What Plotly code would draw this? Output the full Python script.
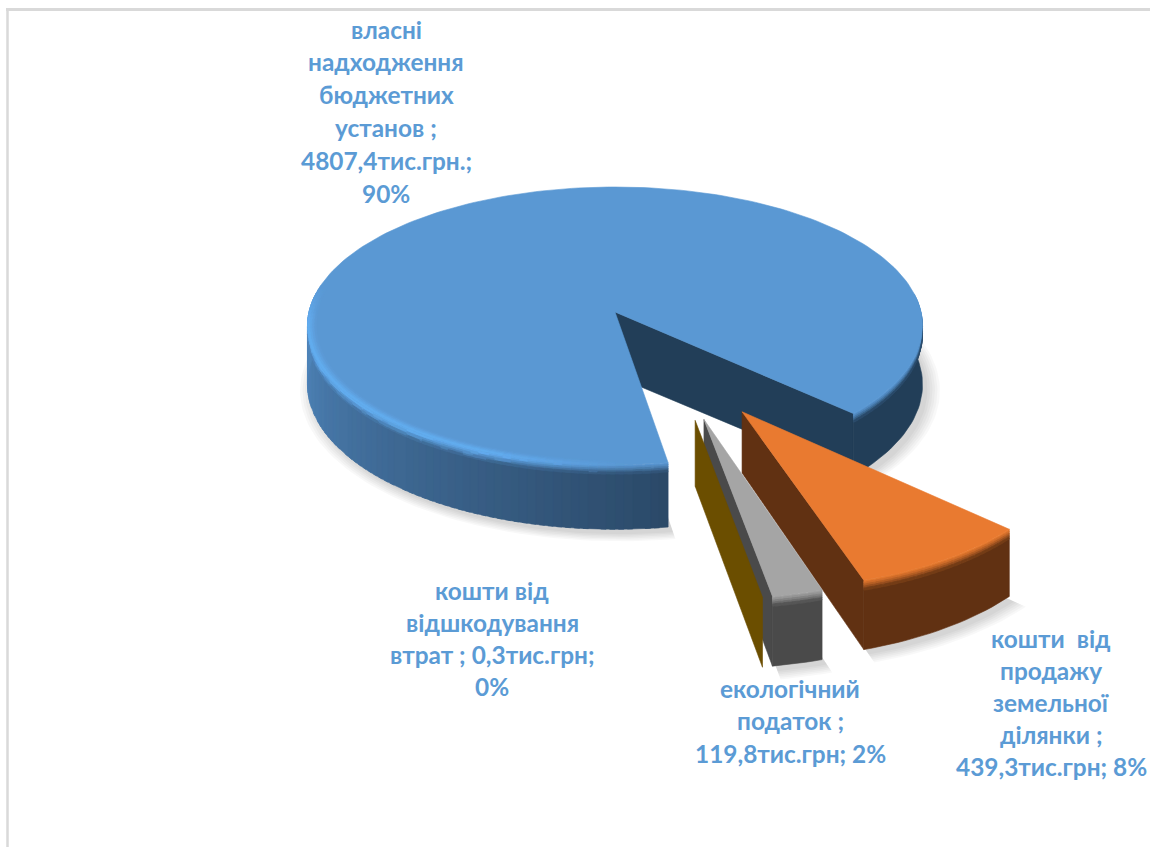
import math
import plotly.graph_objects as go

# ---- data ----
categories = ["власні надходження бюджетних установ", "кошти від продажу земельної ділянки",
              "екологічний податок", "кошти від відшкодування втрат"]
values = [4807.4, 439.3, 119.8, 0.3]
top_colors = ["#5a98d3", "#e97a30", "#a5a5a5", "#ffc000"]
wall_colors = ["#223e58", "#613112", "#4a4a4a", "#6b4e00"]
label_lines = [
    ["власні", "надходження", "бюджетних", "установ ;", "4807,4тис.грн.;", "90%"],
    ["кошти  від", "продажу", "земельної", "ділянки ;", "439,3тис.грн; 8%"],
    ["екологічний", "податок ;", "119,8тис.грн; 2%"],
    ["кошти від", "відшкодування", "втрат ; 0,3тис.грн;", "0%"],
]
label_centers_x = [386, 1051, 790, 492]
label_first_y = [29, 638, 688, 590]
label_step = [32.8, 32.2, 32.5, 32.3]
label_color = "#5b9bd5"
label_font = "Lato, Carlito, 'Open Sans', sans-serif"
label_size = 24.4

# ---- pie geometry (3-D projection of the slices) ----
START_CW = 171.0      # first slice angle, clockwise from 12 o'clock
EXPLODE = 0.39
CX, CY = 615.0, 312.0  # screen position of first slice's tip
RX, AY = 306.0, 137.5
PERSP = 0.10
DEPTH = 58.0
APEX_DEPTH = [64.0, 57.0, 58.0, 61.0]
BEVEL = 8.0
STEP = 1.5


def hex2rgb(h):
    return tuple(int(h[i:i + 2], 16) for i in (1, 3, 5))


def blend(c1, c2, t):
    t = max(0.0, min(1.0, t))
    a, b = hex2rgb(c1), hex2rgb(c2)
    return "#%02x%02x%02x" % tuple(min(255, int(round((a[i] + (b[i] - a[i]) * t) / 2.0) * 2)) for i in range(3))


def proj(X, Y, z=0.0):
    s = 1.0 / (1.0 - PERSP * Y)
    return CX + RX * X * s, CY + (AY * Y + z) * s


def unit(theta):
    r = math.radians(theta)
    return math.cos(r), math.sin(r)


def arc(t0, t1):
    n = max(1, int(math.ceil(abs(t1 - t0) / STEP)))
    return [t0 + (t1 - t0) * i / n for i in range(n + 1)]


fig = go.Figure()


def flush(groups):
    for col, polys in groups.items():
        xs, ys = [], []
        for p in polys:
            xs += [q[0] for q in p] + [p[0][0], None]
            ys += [q[1] for q in p] + [p[0][1], None]
        fig.add_trace(go.Scatter(x=xs, y=ys, mode="lines", fill="toself", fillcolor=col,
                                 line=dict(color=col, width=0.6), hoverinfo="skip", showlegend=False))


def band(t0, t1, ax, ay, z0, z1):
    """wall strip between two rim angles and two heights, as one polygon"""
    ts = arc(t0, t1)
    upper = [proj(ax + unit(t)[0], ay + unit(t)[1], z0) for t in ts]
    lower = [proj(ax + unit(t)[0], ay + unit(t)[1], z1) for t in reversed(ts)]
    return upper + lower


total = sum(values)
spans = [v / total * 360 for v in values]
starts = []
a = START_CW - 90.0           # theta: measured on screen from +x, clockwise
for sp in spans:
    starts.append(a)
    a += sp
mid0 = unit(starts[0] + spans[0] / 2)
apexes = []
for st, sp in zip(starts, spans):
    d = unit(st + sp / 2)
    apexes.append((EXPLODE * (d[0] - mid0[0]), EXPLODE * (d[1] - mid0[1])))

# soft shadows
for k in range(6):
    xs, ys = [], []
    grow = 1.0 + 0.008 * k
    for (ax, ay), st, sp in zip(apexes, starts, spans):
        pts = [proj(ax, ay, DEPTH)]
        for t in arc(st, st + sp):
            c, s_ = unit(t)
            pts.append(proj(ax + grow * c, ay + grow * s_, DEPTH))
        xs += [p[0] + 5 for p in pts] + [pts[0][0] + 5, None]
        ys += [p[1] + 5 for p in pts] + [pts[0][1] + 5, None]
    fig.add_trace(go.Scatter(x=xs, y=ys, mode="lines", fill="toself", fillcolor="rgba(0,0,0,0.028)",
                             line=dict(width=0), hoverinfo="skip", showlegend=False))


def wall_color(i, theta):
    if i != 0:
        return wall_colors[i]
    t = theta % 360
    if 60 < t < 200:
        return blend("#2b4968", "#4e83b8", (t - 81) / (175 - 81))
    return wall_colors[0]


def highlight(i, theta):
    if i != 0:
        return 0.0
    t = theta % 360
    if t < 88 or t > 190:
        return 0.0
    up = min(1.0, (t - 88) / 22)
    down = min(1.0, (190 - t) / 14)
    return min(up, down)


HIGH = "#64aef2"
TINY = 1.0   # slices narrower than this show only their end wall

for i, ((ax, ay), st, sp) in enumerate(zip(apexes, starts, spans)):
    end = st + sp
    rim = arc(st, end)
    # end wall of the slice
    cE, sE = unit(end)
    flush({wall_colors[i]: [[proj(ax, ay, 0), proj(ax + cE, ay + sE, 0),
                             proj(ax + cE, ay + sE, DEPTH), proj(ax, ay, APEX_DEPTH[i])]]})
    if sp < TINY:
        continue
    # visible part of the rim, cut into runs of one colour
    vis = [(t0, t1) for t0, t1 in zip(rim[:-1], rim[1:])
           if math.sin(math.radians((t0 + t1) / 2)) >= -0.12]
    # outer wall
    groups = {}
    runs = []
    for t0, t1 in vis:
        col = wall_color(i, (t0 + t1) / 2)
        if runs and runs[-1][0] == col and abs(runs[-1][2] - t0) < 1e-9:
            runs[-1][2] = t1
        else:
            runs.append([col, t0, t1])
    for col, t0, t1 in runs:
        groups.setdefault(col, []).append(band(t0, min(t1 + STEP * 0.6, end), ax, ay, BEVEL, DEPTH))
    flush(groups)
    # rounded top edge
    zs = [0, 1.6, 3.2, 4.8, 6.4, 8.0]
    groups = {}
    for t0, t1 in vis:
        tm = (t0 + t1) / 2
        upper = blend(top_colors[i], HIGH, highlight(i, tm))
        lower = wall_color(i, tm)
        for j in range(len(zs) - 1):
            frac = ((j + 0.5) / (len(zs) - 1)) ** 1.4
            col = blend(upper, lower, frac)
            groups.setdefault(col, []).append(band(t0, min(t1 + STEP * 0.6, end), ax, ay, zs[j], zs[j + 1] + 0.4))
    flush(groups)
    # top face
    top_pts = [proj(ax, ay, 0)]
    for t in rim:
        c, s_ = unit(t)
        top_pts.append(proj(ax + c, ay + s_, 0))
    flush({top_colors[i]: [top_pts]})
    # highlight fading into the top face
    if i == 0:
        groups = {}
        rs = [0.972, 0.979, 0.986, 0.993, 1.0]
        for t0, t1 in zip(rim[:-1], rim[1:]):
            tm = (t0 + t1) / 2
            h = highlight(i, tm)
            if h <= 0:
                continue
            c0, s0 = unit(t0)
            c1, s1 = unit(t1 + STEP * 0.5)
            for j in range(len(rs) - 1):
                col = blend(top_colors[i], HIGH, h * (j + 0.5) / (len(rs) - 1))
                groups.setdefault(col, []).append([
                    proj(ax + rs[j] * c0, ay + rs[j] * s0), proj(ax + rs[j] * c1, ay + rs[j] * s1),
                    proj(ax + rs[j + 1] * c1, ay + rs[j + 1] * s1), proj(ax + rs[j + 1] * c0, ay + rs[j + 1] * s0)])
        flush(groups)

annotations = []
for lines, x0, y0, dy in zip(label_lines, label_centers_x, label_first_y, label_step):
    for n, line in enumerate(lines):
        annotations.append(dict(x=x0, y=y0 + n * dy, text="<b>%s</b>" % line, showarrow=False,
                                xanchor="center", yanchor="middle", xref="x", yref="y",
                                font=dict(family=label_font, size=label_size, color=label_color)))

fig.update_layout(
    width=1150, height=847, margin=dict(l=0, r=0, t=0, b=0),
    paper_bgcolor="white", plot_bgcolor="white", showlegend=False,
    xaxis=dict(range=[0, 1150], visible=False, fixedrange=True),
    yaxis=dict(range=[847, 0], visible=False, fixedrange=True),
    annotations=annotations,
    shapes=[
        dict(type="line", xref="x", yref="y", x0=6, x1=1150, y0=9.5, y1=9.5, line=dict(color="#d9d9d9", width=3)),
        dict(type="line", xref="x", yref="y", x0=7.5, x1=7.5, y0=8, y1=847, line=dict(color="#d9d9d9", width=2.5)),
    ],
)
fig.write_html("out.html", config={"displayModeBar": False},
               post_script="document.body.style.margin='0';document.body.style.overflow='hidden';")
